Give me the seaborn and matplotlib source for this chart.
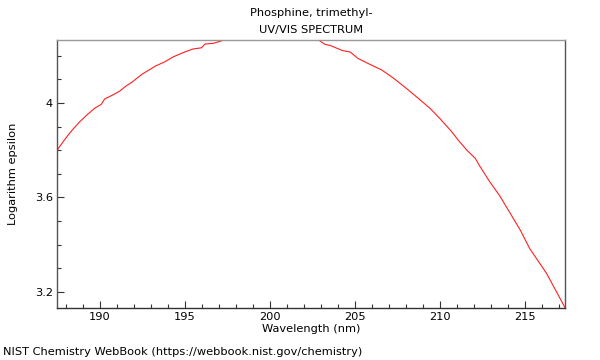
import matplotlib
matplotlib.use("Agg")
import matplotlib.pyplot as plt
from matplotlib.ticker import MultipleLocator, FuncFormatter
import seaborn as sns
import pandas as pd

wavelength = [187.5, 188.0, 188.4, 188.8, 189.25, 189.75, 190.1, 190.3, 190.8, 191.2,
              191.5, 191.9, 192.5, 193.3, 193.85, 194.35, 194.9, 195.5, 196.0, 196.2,
              196.7, 197.3, 198.0, 199.0, 200.0, 201.0, 202.0, 202.9, 203.25, 203.6,
              204.3, 204.75, 205.2, 205.9, 206.6, 207.3, 208.0, 208.7, 209.45, 210.05,
              210.7, 211.1, 211.6, 212.1, 212.35, 212.95, 213.55, 213.95, 214.75, 215.3,
              216.3, 217.4]
log_epsilon = [3.800, 3.850, 3.886, 3.918, 3.949, 3.980, 3.994, 4.017, 4.035, 4.051,
               4.069, 4.088, 4.122, 4.157, 4.175, 4.196, 4.213, 4.229, 4.234, 4.250,
               4.253, 4.266, 4.266, 4.266, 4.266, 4.266, 4.266, 4.266, 4.249, 4.243,
               4.222, 4.216, 4.189, 4.164, 4.140, 4.105, 4.065, 4.023, 3.977, 3.932,
               3.880, 3.843, 3.801, 3.766, 3.735, 3.667, 3.606, 3.558, 3.462, 3.384,
               3.278, 3.131]

title_lines = ["Phosphine, trimethyl-", "UV/VIS SPECTRUM"]
x_label = "Wavelength (nm)"
y_label = "Logarithm epsilon"
footer = "NIST Chemistry WebBook (https://webbook.nist.gov/chemistry)"

sns.set_theme(style="white")
plt.rcParams["font.family"] = ["DejaVu Sans"]
plt.rcParams["text.color"] = "black"
plt.rcParams["axes.labelcolor"] = "black"

FS = 8.2

df = pd.DataFrame({"wavelength": wavelength, "log_epsilon": log_epsilon})

fig = plt.figure(figsize=(6, 3.6), dpi=100)
ax = fig.add_axes([57 / 600, 52 / 360, 508 / 600, 268 / 360])

sns.lineplot(data=df, x="wavelength", y="log_epsilon", ax=ax,
             color="#ff2020", linewidth=0.8, estimator=None, sort=False)

ax.set_xlim(187.5, 217.38)
ax.set_ylim(3.132, 4.267)

ax.xaxis.set_major_locator(MultipleLocator(5))
ax.xaxis.set_minor_locator(MultipleLocator(1))
ax.yaxis.set_major_locator(MultipleLocator(0.4))
ax.yaxis.set_minor_locator(MultipleLocator(0.1))
ax.yaxis.set_major_formatter(FuncFormatter(lambda v, p: f"{v:g}"))

ax.tick_params(axis="both", which="major", direction="in", length=5, width=0.8,
               labelsize=FS, colors="#333333", labelcolor="black", pad=3,
               bottom=True, left=True, top=False, right=False)
ax.tick_params(axis="both", which="minor", direction="in", length=3, width=0.8,
               colors="#333333", bottom=True, left=True, top=False, right=False)

for side, col in {"left": "#555555", "bottom": "#333333", "top": "#999999", "right": "#555555"}.items():
    ax.spines[side].set_visible(True)
    ax.spines[side].set_color(col)
    ax.spines[side].set_linewidth(1.0)

ax.set_xlabel(x_label, fontsize=FS, labelpad=1, color="black")
ax.set_ylabel(y_label, fontsize=FS, labelpad=12, color="black")

fig.text(311 / 600, 1 - 13 / 360, title_lines[0], ha="center", va="center", fontsize=FS, color="black")
fig.text(311 / 600, 1 - 30 / 360, title_lines[1], ha="center", va="center", fontsize=FS, color="black")
fig.text(3 / 600, 1 - 352 / 360, footer, ha="left", va="center", fontsize=FS, color="black")

fig.savefig("out.png", dpi=100)
